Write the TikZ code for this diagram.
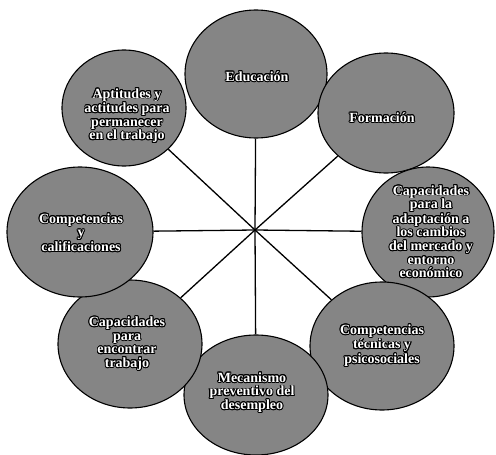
\documentclass[tikz,border=0pt]{standalone}
\usepackage{fontspec}
\setmainfont{Liberation Serif}
\usepackage{contour}
\contourlength{0.9pt}
\usetikzlibrary{shapes.geometric}
\tikzset{
  blob/.style={ellipse, draw=black, line width=1.1pt, fill=black!48, inner sep=0pt},
  txt/.style={align=center, font=\bfseries\fontsize{14}{13.6}\selectfont, text=white, inner sep=0pt},
  spoke/.style={draw=black, line width=1.3pt}
}
\newcommand{\wt}[1]{\contour{black}{#1}}
\begin{document}
\begin{tikzpicture}[x=1pt,y=-1pt]
\useasboundingbox (0,0) rectangle (496,455);
\coordinate (c) at (255,230);
% ellipses
\node[blob, minimum width=124, minimum height=116] (apt) at (124,108) {};
\node[blob, minimum width=142, minimum height=128] (edu) at (256,74) {};
\node[blob, minimum width=136, minimum height=120] (for) at (386,113) {};
\node[blob, minimum width=132, minimum height=130] (cap) at (428,232) {};
\node[blob, minimum width=144, minimum height=128] (tec) at (382,346) {};
\node[blob, minimum width=144, minimum height=120] (mec) at (256,395) {};
\node[blob, minimum width=144, minimum height=128] (enc) at (130,344) {};
\node[blob, minimum width=146, minimum height=130] (com) at (80,232) {};
% spokes
\draw[spoke] (c) -- (edu);
\draw[spoke] (c) -- (mec);
\draw[spoke] (c) -- (com);
\draw[spoke] (c) -- (cap);
\draw[spoke] (c) -- (apt);
\draw[spoke] (c) -- (for);
\draw[spoke] (c) -- (enc);
\draw[spoke] (c) -- (tec);
% texts
\node[txt] (tedu) at (257,77) {\wt{Educación}};
\node[txt] (tfor) at (382,118) {\wt{Formación}};
\node[txt] (tcap) at (431,232) {\wt{Capacidades}\\\wt{para la}\\\wt{adaptación a}\\\wt{los cambios}\\\wt{del mercado y}\\\wt{entorno}\\\wt{económico}};
\node[txt] (ttec) at (382,346) {\wt{Competencias}\\\wt{técnicas y}\\\wt{psicosociales}};
\node[txt] (tmec) at (252,393) {\wt{Mecanismo}\\\wt{preventivo del}\\\wt{desempleo}};
\node[txt] (tenc) at (127,344) {\wt{Capacidades}\\\wt{para}\\\wt{encontrar}\\\wt{trabajo}};
\node[txt] (tcom) at (81,233) {\wt{Competencias}\\\wt{y}\\\wt{calificaciones}};
\node[txt] (tapt) at (127,116) {\wt{Aptitudes y}\\\wt{actitudes para}\\\wt{permanecer}\\\wt{en el trabajo}};
\end{tikzpicture}
\end{document}
